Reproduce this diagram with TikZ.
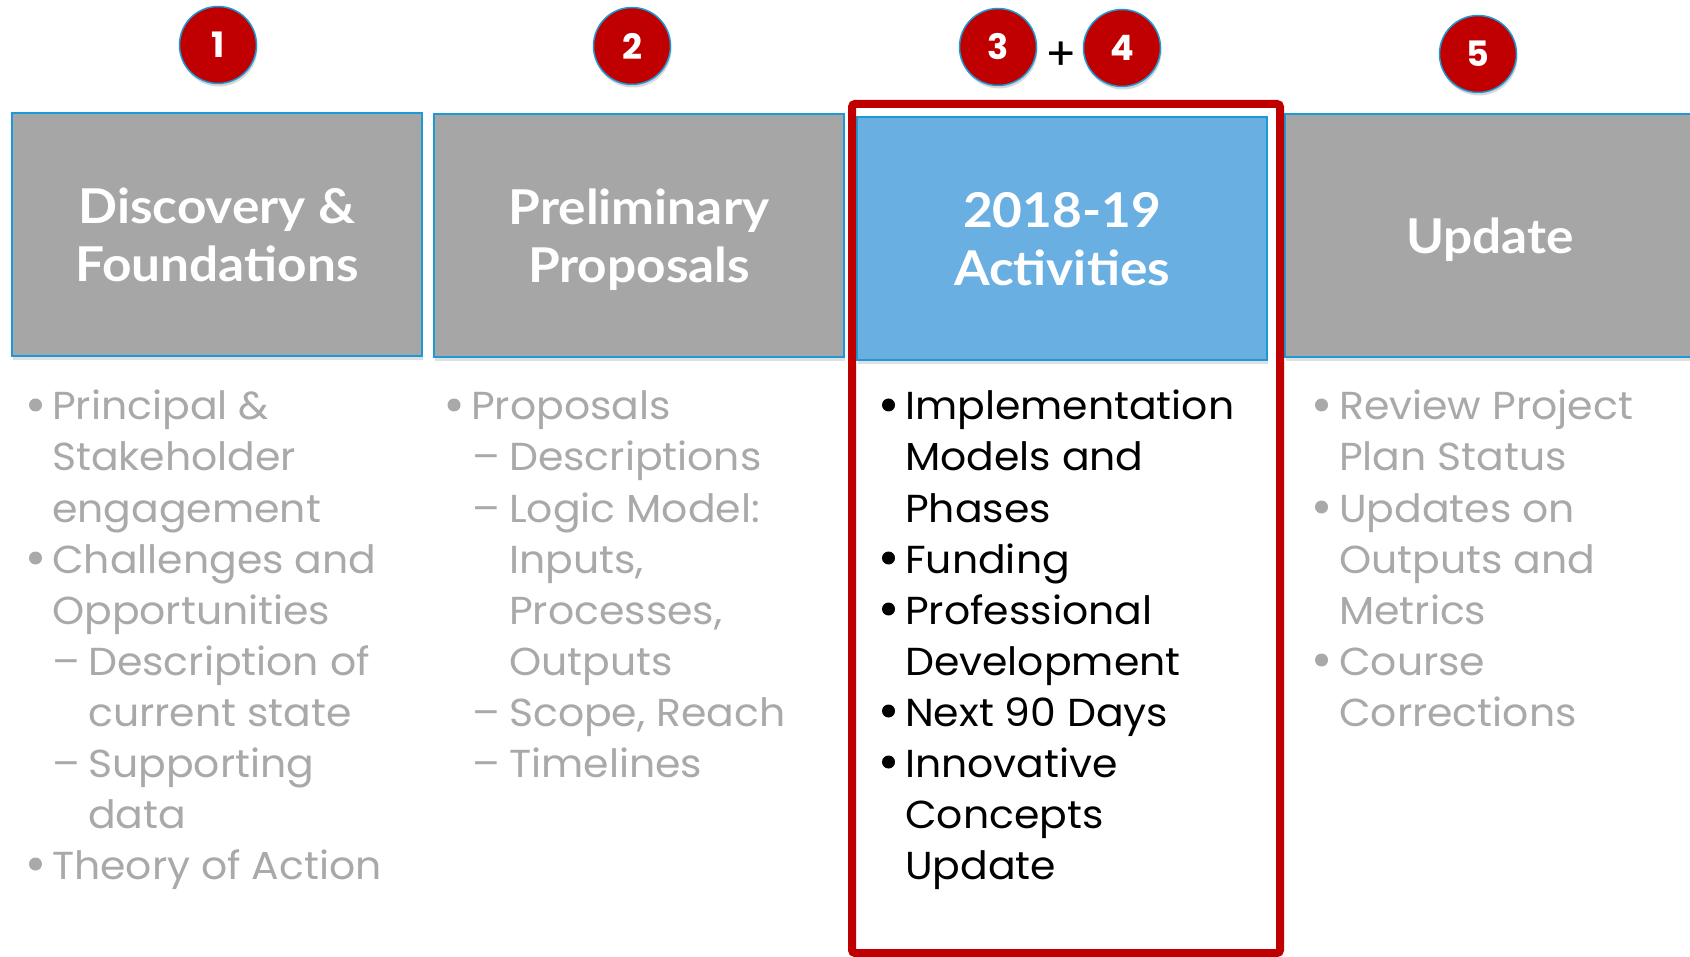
\documentclass[tikz,border=0pt]{standalone}
\usepackage{fontspec}
\usetikzlibrary{shadows}
\setmainfont{Poppins}[FakeStretch=1.05]
\newfontfamily\headfam{Lato}[FakeStretch=1.07]
\newfontfamily\plainfam{Poppins}
\definecolor{boxgray}{HTML}{A6A6A6}
\definecolor{txtgray}{HTML}{A9A9A9}
\definecolor{numred}{HTML}{C00000}
\definecolor{edgeblue}{HTML}{1A9AD6}
\definecolor{actblue}{HTML}{6AAFE2}
\newcommand{\hfont}{\headfam\bfseries\fontsize{48}{58}\selectfont}
\newcommand{\bfontx}{\fontsize{39}{51}\selectfont}
\newcommand{\nfont}{\plainfam\bfseries\fontsize{35}{38}\selectfont}
\tikzset{
  hbox/.style={draw=edgeblue, line width=2pt, fill=boxgray, minimum width=410pt,
    minimum height=243pt, inner sep=0pt, align=center, text=white, font=\hfont,
    text depth=0pt, drop shadow={shadow xshift=1pt, shadow yshift=-4pt, opacity=0.25}},
  numc/.style={circle, fill=numred, draw=edgeblue, line width=1.5pt, minimum size=77pt,
    inner sep=0pt, text=white, font=\nfont,
    drop shadow={shadow xshift=1pt, shadow yshift=-3pt, opacity=0.3}},
  gtxt/.style={anchor=base west, inner sep=0pt, text=txtgray, font=\bfontx},
  ktxt/.style={gtxt, text=black},
}
\begin{document}
\begin{tikzpicture}[x=1pt,y=-1pt]
\useasboundingbox[fill=white] (0,0) rectangle (1690,957);
% header boxes
\node[hbox] (h1) at (217,234.5) {Discovery \&\\Foundations};
\node[hbox] (h2) at (639,236) {Preliminary\\Proposals};
\node[hbox] (h5) at (1490,236) {Update};
\node[hbox, fill=actblue] (h3) at (1062,239) {2018-19\\Activities};
% red frame
\draw[numred, line width=8pt, rounded corners=3pt] (852,104) rectangle (1280,953);
% number circles
\node[numc] (n1) at (218,45) {1};
\node[numc] (n2) at (632,46) {2};
\node[numc] (n3) at (998,47) {3};
\node[numc] (n4) at (1122,48) {4};
\node[numc] (n5) at (1478,54) {5};
\node[font=\plainfam\fontsize{46}{48}\selectfont, inner sep=0pt] (plus) at (1061,56) {+};
% column 1
\foreach \yy in {405,558,864} \fill[txtgray] (35.5,\yy) circle (6.5pt);
\node[gtxt] (a1) at (52,420) {Principal \&};
\node[gtxt] (a2) at (52,471) {Stakeholder};
\node[gtxt] (a3) at (52,522) {engagement};
\node[gtxt] (a4) at (52,573) {Challenges and};
\node[gtxt] (a5) at (52,624) {Opportunities};
\node[gtxt] (a6d) at (52,675) {–};
\node[gtxt] (a6) at (88,675) {Description of};
\node[gtxt] (a7) at (88,726) {current state};
\node[gtxt] (a8d) at (52,777) {–};
\node[gtxt] (a8) at (88,777) {Supporting};
\node[gtxt] (a9) at (88,828) {data};
\node[gtxt] (a10) at (52,879) {Theory of Action};
% column 2
\fill[txtgray] (454,405) circle (6.5pt);
\node[gtxt] (b1) at (471,420) {Proposals};
\node[gtxt] (b2d) at (472,471) {–};
\node[gtxt] (b2) at (509,471) {Descriptions};
\node[gtxt] (b3d) at (472,522) {–};
\node[gtxt] (b3) at (509,522) {Logic Model:};
\node[gtxt] (b4) at (509,573) {Inputs,};
\node[gtxt] (b5) at (509,624) {Processes,};
\node[gtxt] (b6) at (509,675) {Outputs};
\node[gtxt] (b7d) at (472,726) {–};
\node[gtxt] (b7) at (509,726) {Scope, Reach};
\node[gtxt] (b8d) at (472,777) {–};
\node[gtxt] (b8) at (509,777) {Timelines};
% column 3
\foreach \yy in {405,558,609,711,762} \fill[black] (888.5,\yy) circle (6.5pt);
\node[ktxt] (c1) at (905,420) {Implementation};
\node[ktxt] (c2) at (905,471) {Models and};
\node[ktxt] (c3) at (905,522) {Phases};
\node[ktxt] (c4) at (905,573) {Funding};
\node[ktxt] (c5) at (905,624) {Professional};
\node[ktxt] (c6) at (905,675) {Development};
\node[ktxt] (c7) at (905,726) {Next 90 Days};
\node[ktxt] (c8) at (905,777) {Innovative};
\node[ktxt] (c9) at (905,828) {Concepts};
\node[ktxt] (c10) at (905,879) {Update};
% column 4
\foreach \yy in {405,507,660} \fill[txtgray] (1321.5,\yy) circle (6.5pt);
\node[gtxt] (d1) at (1339,420) {Review Project};
\node[gtxt] (d2) at (1339,471) {Plan Status};
\node[gtxt] (d3) at (1339,522) {Updates on};
\node[gtxt] (d4) at (1339,573) {Outputs and};
\node[gtxt] (d5) at (1339,624) {Metrics};
\node[gtxt] (d6) at (1339,675) {Course};
\node[gtxt] (d7) at (1339,726) {Corrections};
\end{tikzpicture}
\end{document}
